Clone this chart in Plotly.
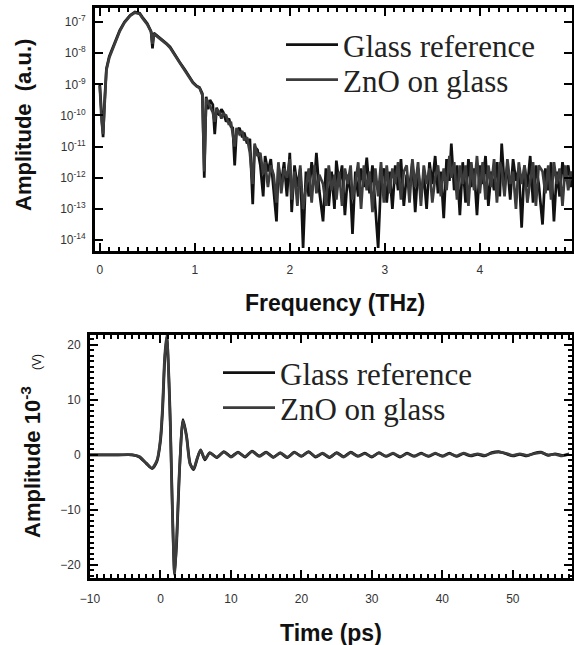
import plotly.graph_objects as go

# ---------------- Spectrum (top panel) ----------------
freq_thz = [
    0.00, 0.02, 0.035, 0.05, 0.07, 0.10, 0.14, 0.18, 0.21, 0.26, 0.32, 0.37, 0.42, 0.45, 0.50, 0.54,
    0.555, 0.57, 0.60, 0.65, 0.70, 0.74, 0.79, 0.84, 0.90, 0.95, 0.98, 1.02, 1.05, 1.08, 1.10, 1.12,
    1.14, 1.16, 1.19, 1.21, 1.23, 1.26, 1.28, 1.30, 1.33, 1.36, 1.38, 1.40, 1.42, 1.44, 1.47, 1.50,
    1.52, 1.55, 1.58, 1.61, 1.63, 1.66, 1.69, 1.72, 1.74, 1.77, 1.80, 1.83, 1.86, 1.88, 1.91, 1.94,
    1.97, 2.00, 2.02, 2.05, 2.08, 2.11, 2.14,
    2.17, 2.20, 2.23, 2.26, 2.28, 2.31, 2.35, 2.38, 2.41, 2.44, 2.47, 2.49,
    2.52, 2.55, 2.58, 2.61, 2.64, 2.66, 2.69, 2.72, 2.75, 2.78, 2.81, 2.84, 2.87, 2.90, 2.93, 2.96, 2.99,
    3.02, 3.05, 3.08, 3.11, 3.14, 3.17, 3.20, 3.23, 3.26, 3.29, 3.32, 3.35, 3.38, 3.41, 3.44, 3.47, 3.50,
    3.53, 3.56, 3.59, 3.62, 3.65, 3.68, 3.70, 3.73, 3.76, 3.79, 3.82, 3.85, 3.88, 3.91, 3.94, 3.97,
    4.00, 4.03, 4.06, 4.09, 4.12, 4.15, 4.18, 4.21, 4.23, 4.26, 4.29, 4.32, 4.35, 4.38, 4.41, 4.44, 4.47, 4.50,
    4.53, 4.56, 4.59, 4.62, 4.66, 4.69, 4.72, 4.75, 4.78, 4.81, 4.84, 4.87, 4.90, 4.93, 4.96, 4.99,
]

# log10 of amplitude (a.u.)
glass_spec_log = [
    -9.0, -10.0, -10.7, -9.6, -8.5, -8.1, -7.8, -7.5, -7.27, -7.0, -6.78, -6.68, -6.72, -6.85, -7.05, -7.3,
    -7.85, -7.35, -7.42, -7.55, -7.68, -7.8, -8.05, -8.28, -8.55, -8.78, -8.93, -9.05, -9.1, -9.3, -12.0, -9.4,
    -9.8, -9.5, -9.65, -10.6, -9.75, -10.0, -9.8, -9.9, -10.2, -10.1, -10.35, -10.4, -11.6, -10.5, -10.4, -10.7,
    -10.55, -10.9, -10.75, -12.85, -11.0, -11.1, -11.6, -12.6, -11.3, -11.8, -11.4, -12.4, -13.4, -11.6, -12.2, -11.5,
    -12.6, -11.2, -13.1, -11.6, -12.3, -11.7, -14.25,
    -11.8, -12.6, -11.5, -12.1, -11.2, -12.4, -13.4, -11.7, -12.9, -11.8, -13.0, -11.45,
    -12.2, -11.6, -13.2, -11.9, -12.5, -13.8, -11.8, -12.6, -11.7, -12.3, -11.35, -12.5, -11.6, -12.8, -14.25, -12.0, -11.7,
    -12.8, -11.8, -13.0, -11.6, -12.4, -11.4, -12.9, -11.9, -12.3, -11.5, -13.1, -11.7, -12.6, -11.9, -13.0, -11.5, -12.2,
    -11.3, -12.5, -11.8, -13.3, -11.4, -12.1, -10.9, -12.4, -11.6, -13.2, -11.5, -12.8, -11.4, -12.3, -11.7, -13.2,
    -11.6, -12.2, -11.3, -12.9, -11.8, -12.4, -11.5, -12.6, -10.9, -12.3, -11.6, -12.7, -11.4, -12.1, -11.7, -13.6, -11.6, -12.3,
    -11.3, -12.8, -11.6, -12.2, -13.5, -11.7, -12.4, -11.5, -13.4, -11.8, -12.6, -11.5, -12.1, -11.6, -12.3, -11.7,
]

zno_spec_log = [
    -9.05, -10.2, -10.6, -9.5, -8.55, -8.15, -7.82, -7.52, -7.3, -7.02, -6.8, -6.7, -6.74, -6.88, -7.08, -7.32,
    -7.7, -7.38, -7.45, -7.57, -7.7, -7.83, -8.08, -8.3, -8.58, -8.8, -8.95, -9.07, -9.12, -9.35, -11.8, -9.45,
    -9.6, -9.7, -9.9, -10.2, -9.8, -9.9, -10.1, -9.95, -10.0, -10.3, -10.2, -10.6, -11.0, -10.4, -10.6, -10.5,
    -10.8, -10.7, -11.2, -12.2, -10.9, -11.3, -11.2, -11.9, -11.5, -12.3, -11.6, -11.9, -12.8, -11.5, -12.5, -11.7,
    -12.0, -11.4, -12.7, -11.8, -12.9, -11.6, -13.0,
    -12.3, -11.7, -12.8, -11.6, -12.5, -11.9, -12.2, -12.9, -11.6, -12.4, -11.9, -12.7,
    -11.8, -12.9, -11.7, -12.2, -11.6, -12.7, -12.2, -11.5, -13.0, -11.6, -12.4, -11.8, -13.1, -11.7, -12.6, -11.5, -12.8,
    -11.6, -12.5, -11.7, -12.2, -11.5, -12.7, -11.8, -11.6, -12.8, -11.4, -12.3, -11.5, -12.9, -11.6, -12.2, -11.7, -12.8,
    -12.0, -11.6, -12.6, -11.7, -12.4, -11.3, -12.0, -11.5, -12.7, -11.6, -12.2, -11.6, -12.9, -11.5, -12.4, -11.3,
    -12.5, -11.5, -12.7, -11.6, -12.3, -11.4, -12.8, -11.5, -11.7, -12.6, -11.4, -12.2, -11.8, -13.0, -11.5, -12.2, -11.6, -12.8,
    -12.1, -11.5, -12.9, -11.6, -11.8, -12.5, -11.6, -12.7, -11.5, -12.2, -11.7, -12.9, -11.6, -12.4, -11.8, -12.2,
]

# ---------------- Time domain (bottom panel) ----------------
time_ps = [
    -10, -6, -4, -3, -2, -1.2, -0.5, 0, 0.3, 0.6, 0.9, 1.2, 1.4, 1.7, 2.0, 2.3, 2.7, 3.2, 3.7, 4.2, 4.7, 5.2, 5.7, 6.3,
    7, 8, 9, 10, 11, 12, 13, 14, 15, 16, 17, 18, 19, 20, 21, 22, 23, 24, 25, 26, 27, 28, 29, 30, 31, 32,
    33, 34, 35, 36, 37, 38, 39, 40, 41, 42, 43, 44, 45, 46, 47, 48, 49, 50, 51, 52, 53, 54, 55, 56, 57, 58,
]

glass_time = [
    0, 0, 0, -0.4, -1.6, -2.5, -1.2, 2.5, 8, 17, 21.5, 14, 6, -10, -21.5, -16, -3, 6.4, 3.5, -1.5, -2.7, -0.8, 0.9, -0.9,
    0.4, -0.5, 0.6, -0.3, 0.5, -0.4, 0.7, -0.2, 0.5, -0.4, 0.3, -0.5, 0.5, -0.3, 0.6, -0.4, 0.2, -0.5, 0.4, -0.3,
    0.5, -0.2, 0.3, -0.4, 0.4, -0.3, 0.2, -0.4, 0.3, -0.2, 0.3, -0.3, 0.2, -0.2, 0.3, -0.3, 0.2, -0.2, 0.1, -0.2,
    0.4, 0.6, 0.2, -0.2, 0.1, -0.2, 0.3, 0.5, -0.1, 0.2, -0.1, 0.2,
]

zno_time = [
    0, 0, 0, -0.3, -1.5, -2.4, -1.0, 3.0, 9, 18, 21.8, 13, 5, -11, -21.8, -15, -2.5, 6.2, 3.2, -1.7, -2.5, -0.6, 0.8, -0.7,
    0.3, -0.4, 0.5, -0.4, 0.4, -0.3, 0.6, -0.3, 0.4, -0.5, 0.4, -0.4, 0.4, -0.2, 0.5, -0.3, 0.3, -0.4, 0.3, -0.4,
    0.4, -0.3, 0.2, -0.3, 0.3, -0.2, 0.3, -0.3, 0.2, -0.3, 0.2, -0.2, 0.3, -0.3, 0.2, -0.2, 0.3, -0.1, 0.2, -0.1,
    0.3, 0.5, 0.3, -0.1, 0.2, -0.1, 0.2, 0.4, 0.0, 0.1, -0.2, 0.1,
]

series_names = ["Glass reference", "ZnO on glass"]
y_tick_exps = [-7, -8, -9, -10, -11, -12, -13, -14]

assert len(freq_thz) == len(glass_spec_log) == len(zno_spec_log), (len(freq_thz), len(glass_spec_log), len(zno_spec_log))
assert len(time_ps) == len(glass_time) == len(zno_time), (len(time_ps), len(glass_time), len(zno_time))

glass_spec = [10 ** v for v in glass_spec_log]
zno_spec = [10 ** v for v in zno_spec_log]

C_GLASS = "#111111"
C_ZNO = "#3c3c3c"
LW = 2.7

fig = go.Figure()
fig.add_trace(go.Scatter(x=freq_thz, y=glass_spec, mode="lines", name=series_names[0],
                         line=dict(color=C_GLASS, width=LW), xaxis="x", yaxis="y", legend="legend"))
fig.add_trace(go.Scatter(x=freq_thz, y=zno_spec, mode="lines", name=series_names[1],
                         line=dict(color=C_ZNO, width=LW), xaxis="x", yaxis="y", legend="legend2"))
fig.add_trace(go.Scatter(x=time_ps, y=glass_time, mode="lines", name=series_names[0],
                         line=dict(color=C_GLASS, width=LW, shape="spline", smoothing=0.7),
                         xaxis="x2", yaxis="y2", legend="legend3"))
fig.add_trace(go.Scatter(x=time_ps, y=zno_time, mode="lines", name=series_names[1],
                         line=dict(color=C_ZNO, width=LW, shape="spline", smoothing=0.7),
                         xaxis="x2", yaxis="y2", legend="legend4"))

W, H = 574, 645
def px(x):
    return x / W
def py(y):
    return 1 - y / H

tickfont = dict(family="Arial", size=12, color="#333333")
frame = dict(showline=True, linewidth=3, linecolor="black", mirror="allticks",
             ticks="inside", tickwidth=2, tickcolor="black", ticklen=8,
             showgrid=False, zeroline=False, tickfont=tickfont, automargin=False)

leg_font = dict(family="Liberation Serif", size=31, color="#222222")
def leg(x, y):
    return dict(x=px(x), y=py(y), xanchor="left", yanchor="middle",
                bgcolor="rgba(0,0,0,0)", borderwidth=0, itemwidth=52,
                font=leg_font, tracegroupgap=0)

fig.update_layout(
    template="none",
    width=W, height=H,
    margin=dict(l=0, r=0, t=0, b=0, autoexpand=False),
    paper_bgcolor="white", plot_bgcolor="white",
    xaxis=dict(domain=[px(95), px(572)], anchor="y", range=[-0.05, 4.97],
               tickvals=[0, 1, 2, 3, 4], ticktext=["0", "1", "2", "3", "4"],
               minor=dict(dtick=0.1, tick0=0, ticks="inside", ticklen=4, tickwidth=1.5, tickcolor="black"),
               ticklabelstandoff=6, **frame),
    yaxis=dict(domain=[py(251), py(8)], anchor="x", type="log", range=[-14.35, -6.55],
               tickvals=[10 ** e for e in y_tick_exps],
               ticktext=["10<sup>%d</sup>" % e for e in y_tick_exps],
               ticklabelstandoff=4, **frame),
    xaxis2=dict(domain=[px(90), px(572)], anchor="y2", range=[-10, 58.4],
                dtick=10, tick0=0,
                minor=dict(dtick=1, tick0=0, ticks="inside", ticklen=4, tickwidth=1.5, tickcolor="black"),
                ticklabelstandoff=8, **frame),
    yaxis2=dict(domain=[py(578), py(335)], anchor="x2", range=[-22.4, 21.8],
                dtick=10, tick0=0,
                minor=dict(dtick=1, tick0=0, ticks="inside", ticklen=4, tickwidth=1.5, tickcolor="black"),
                ticklabelstandoff=4, **frame),
    legend=leg(281, 45),
    legend2=leg(281, 80),
    legend3=leg(218, 373),
    legend4=leg(218, 408),
    showlegend=True,
)

title_font_x = dict(family="Arial", size=23, color="#111111")
title_font_y = dict(family="Arial", size=22, color="#111111")
ann = dict(xref="paper", yref="paper", showarrow=False, xanchor="center", yanchor="middle")
fig.add_annotation(text="<b>Frequency (THz)</b>", x=px(335), y=py(303), font=title_font_x, **ann)
fig.add_annotation(text="<b>Time (ps)</b>", x=px(331), y=py(633), font=title_font_x, **ann)
fig.add_annotation(text="<b>Amplitude  (a.u.)</b>", x=px(23), y=py(125), textangle=-90,
                   font=title_font_y, **ann)
fig.add_annotation(text="<b>Amplitude 10<sup>-3</sup></b>", x=px(31), y=py(462), textangle=-90,
                   font=title_font_y, **ann)
fig.add_annotation(text="(V)", x=px(37), y=py(362), textangle=-90,
                   font=dict(family="Arial", size=12, color="#111111"), **ann)

fig.write_html("out.html", config={"displayModeBar": False},
               post_script="document.body.style.margin='0';document.body.style.overflow='hidden';")
